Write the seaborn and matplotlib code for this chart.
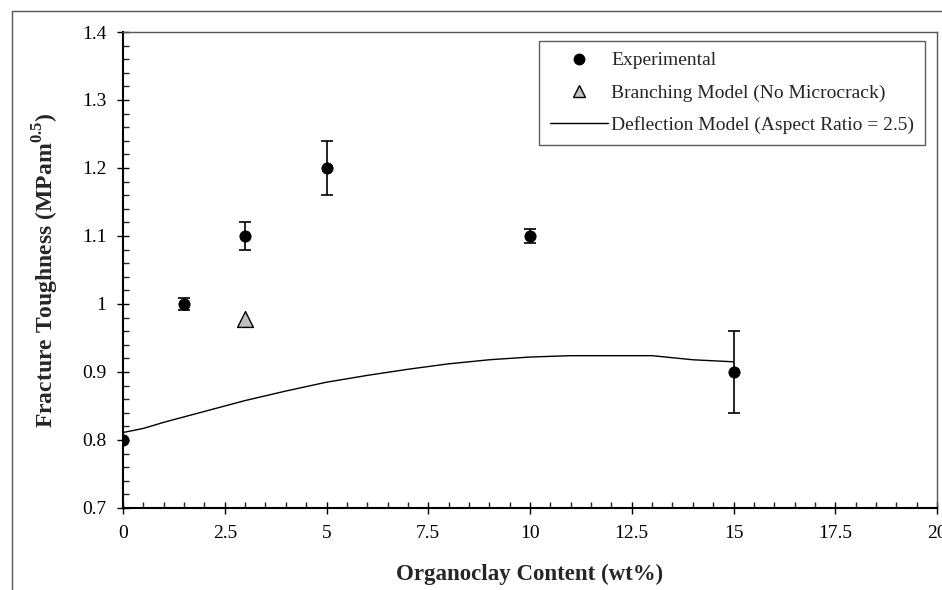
import matplotlib
matplotlib.use("Agg")
import matplotlib.pyplot as plt
from matplotlib.patches import Rectangle
from matplotlib.ticker import MultipleLocator
from matplotlib.lines import Line2D
import seaborn as sns
import pandas as pd

# Experimental data (wt% organoclay vs fracture toughness)
exp_wt = [0, 1.5, 3, 5, 10, 15]
exp_kic = [0.80, 1.00, 1.10, 1.20, 1.10, 0.90]
exp_err = [0.0, 0.009, 0.02, 0.04, 0.01, 0.06]

# Branching model (no microcrack)
branch_wt = [3]
branch_kic = [0.978]

# Deflection model, aspect ratio 2.5
defl_wt = [0, 0.5, 1, 2, 3, 4, 5, 6, 7, 8, 9, 10, 11, 12, 13, 13.5, 14, 15]
defl_kic = [0.811, 0.817, 0.826, 0.842, 0.858, 0.872, 0.885, 0.895, 0.904,
            0.912, 0.918, 0.922, 0.924, 0.924, 0.924, 0.921, 0.918, 0.915]

sns.set_style("white")
plt.rcParams["font.family"] = ["Liberation Serif", "DejaVu Serif"]
plt.rcParams["mathtext.fontset"] = "custom"
plt.rcParams["mathtext.rm"] = "Liberation Serif"
plt.rcParams["mathtext.bf"] = "Liberation Serif:bold"

fig = plt.figure(figsize=(9.42, 5.9), dpi=100)
ax = fig.add_axes([123 / 942, 1 - 508 / 590, 814 / 942, 476 / 590])

# outer frame of the original picture
fig.patches.append(Rectangle((12 / 942, -0.1), 1.2, 0.1 + (1 - 11 / 590),
                             transform=fig.transFigure, fill=False,
                             edgecolor="#555555", linewidth=1.0))

defl = pd.DataFrame({"wt": defl_wt, "kic": defl_kic})
sns.lineplot(data=defl, x="wt", y="kic", ax=ax, color="black", linewidth=1.0)

ax.errorbar(exp_wt, exp_kic, yerr=exp_err, fmt="none", ecolor="black",
            elinewidth=1.2, capsize=4.5, capthick=1.2, zorder=3)
exp = pd.DataFrame({"wt": exp_wt, "kic": exp_kic})
sns.scatterplot(data=exp, x="wt", y="kic", ax=ax, color="black", marker="o",
                s=65, edgecolor="black", zorder=4)
br = pd.DataFrame({"wt": branch_wt, "kic": branch_kic})
sns.scatterplot(data=br, x="wt", y="kic", ax=ax, color="#c0c0c0", marker="^",
                s=130, edgecolor="black", linewidth=1.0, zorder=4)

ax.set_xlim(0, 20)
ax.set_ylim(0.7, 1.4)
ax.xaxis.set_minor_locator(MultipleLocator(0.5))
ax.yaxis.set_minor_locator(MultipleLocator(0.02))
ax.set_xticks([0, 2.5, 5, 7.5, 10, 12.5, 15, 17.5, 20])
ax.set_xticklabels(["0", "2.5", "5", "7.5", "10", "12.5", "15", "17.5", "20"])
ax.set_yticks([0.7, 0.8, 0.9, 1.0, 1.1, 1.2, 1.3, 1.4])
ax.set_yticklabels(["0.7", "0.8", "0.9", "1", "1.1", "1.2", "1.3", "1.4"])
ax.tick_params(which="major", direction="inout", length=8, width=1.0,
               labelsize=14, colors="black", pad=8)
ax.tick_params(which="minor", direction="in", length=4, width=1.0)
ax.tick_params(axis="x", which="both", bottom=True)
ax.tick_params(axis="y", which="both", left=True)

for side in ["left", "bottom"]:
    ax.spines[side].set_color("black")
    ax.spines[side].set_linewidth(1.5)
for side in ["top", "right"]:
    ax.spines[side].set_color("#555555")
    ax.spines[side].set_linewidth(1.0)

ax.set_xlabel("Organoclay Content (wt%)", fontsize=16.5, fontweight="bold",
              labelpad=16)
ax.set_ylabel(r"Fracture Toughness (MPam$^{\mathbf{0.5}}$)", fontsize=17,
              fontweight="bold", labelpad=15)

handles = [
    Line2D([], [], color="black", marker="o", linestyle="none", markersize=7.5),
    Line2D([], [], color="#c0c0c0", marker="^", linestyle="none",
           markersize=9, markeredgecolor="black"),
    Line2D([], [], color="black", linewidth=1.0),
]
labels = ["Experimental", "Branching Model (No Microcrack)",
          "Deflection Model (Aspect Ratio = 2.5)"]
leg = ax.legend(handles, labels, loc="upper right",
                bbox_to_anchor=(0.985, 0.981), borderaxespad=0, fontsize=14,
                frameon=True, fancybox=False, edgecolor="#333333",
                labelspacing=0.75, handlelength=3.0, handletextpad=0.15,
                borderpad=0.55)
leg.get_frame().set_linewidth(1.0)

fig.savefig("out.png", dpi=100)
